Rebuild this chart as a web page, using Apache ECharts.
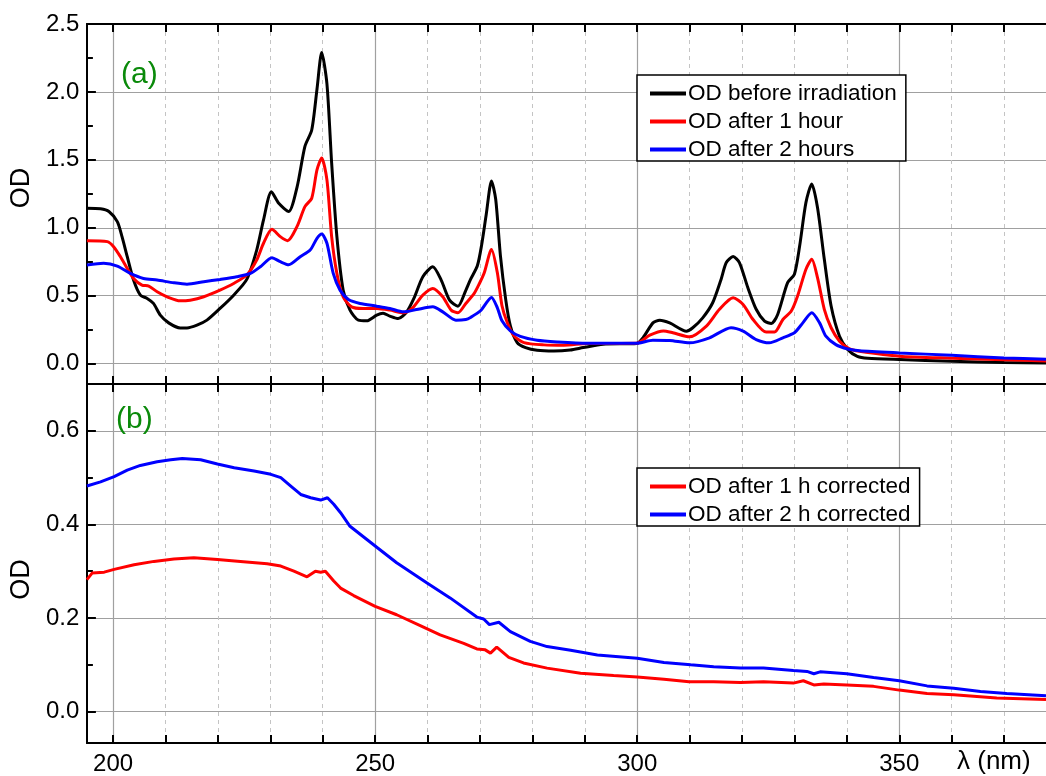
<!DOCTYPE html>
<html>
<head>
<meta charset="utf-8">
<script src="https://cdn.jsdelivr.net/npm/echarts@6/dist/echarts.min.js"></script>
<style>
  html, body { margin: 0; padding: 0; background: #fff; }
  #chart { width: 1046px; height: 776px; }
</style>
</head>
<body>
<div id="chart"></div>
<script>
// Absorption spectra, panel (a): [wavelength nm, OD]
const odBefore = [
  [195,1.144],[197.6,1.14],[199.2,1.12],[200.8,1.045],[201.7,0.935],[202.7,0.787],[203.9,0.615],
  [205.2,0.504],[206.5,0.48],[207.7,0.443],[209,0.357],[210.6,0.30],[212.8,0.263],[214.1,0.263],
  [216,0.283],[217.9,0.32],[220.4,0.406],[223,0.504],[225.5,0.62],[227.4,0.836],[228.7,1.058],
  [230.2,1.265],[231.6,1.18],[233.5,1.12],[235.1,1.30],[236.6,1.60],[237.9,1.72],[238.9,2.02],
  [239.8,2.29],[240.8,2.06],[241.7,1.476],[242.7,0.935],[243.9,0.54],[245.2,0.394],[246.8,0.32],
  [248.4,0.315],[250.3,0.357],[251.5,0.37],[252.8,0.35],[254.4,0.332],[256,0.38],[257.5,0.49],
  [259.1,0.64],[261,0.713],[262.6,0.615],[264.2,0.467],[265.8,0.423],[267.3,0.54],[268.2,0.62],
  [269.5,0.72],[270.3,0.87],[271.2,1.1],[272.2,1.345],[273,1.21],[273.9,0.795],[274.9,0.475],
  [275.8,0.278],[277.1,0.155],[278.7,0.118],[280.9,0.098],[284.1,0.093],[287.2,0.10],[289.7,0.118],
  [293.5,0.143],[299.9,0.148],[301.1,0.19],[303,0.30],[304.3,0.32],[306.2,0.30],[309.4,0.239],
  [310.6,0.264],[312.5,0.337],[314.4,0.448],[316,0.62],[317,0.744],[318.3,0.788],[319.5,0.744],
  [321.1,0.56],[322.7,0.40],[324.3,0.313],[325.6,0.296],[326.8,0.362],[328.7,0.596],[330,0.658],
  [331,0.867],[332.2,1.187],[333.3,1.323],[334.4,1.15],[335.7,0.768],[337,0.424],[338.6,0.202],
  [340.2,0.103],[342,0.054],[344,0.04],[350,0.03],[360,0.017],[370,0.008],[378,0.005]
];
const od1h = [
  [195,0.905],[198.9,0.898],[200.1,0.861],[201.4,0.787],[202.7,0.70],[203.9,0.627],[205.5,0.578],
  [206.8,0.571],[208.4,0.529],[210.3,0.492],[212.8,0.462],[214.7,0.467],[217.3,0.492],[220.4,0.541],
  [223,0.59],[225.5,0.652],[227.4,0.763],[228.7,0.886],[230.3,0.989],[231.9,0.935],[233.3,0.905],
  [235.1,1.01],[236.6,1.156],[237.9,1.218],[238.9,1.427],[239.8,1.513],[240.8,1.353],[241.7,0.935],
  [242.7,0.664],[243.9,0.492],[245.5,0.418],[247.7,0.406],[250.3,0.406],[252.8,0.394],[255.4,0.374],
  [257.2,0.413],[259.1,0.504],[261,0.553],[262.9,0.492],[264.5,0.394],[265.8,0.374],[267.3,0.443],
  [268.9,0.517],[269.9,0.59],[270.8,0.667],[272.2,0.84],[273.3,0.672],[274.2,0.426],[275.2,0.303],
  [276.5,0.204],[278.4,0.155],[282.2,0.138],[286,0.135],[290.4,0.148],[299.9,0.15],[302.4,0.209],
  [305,0.241],[306.8,0.227],[310,0.197],[313.2,0.276],[315.7,0.40],[318.3,0.485],[320.2,0.436],
  [322.1,0.325],[324.6,0.232],[326.2,0.232],[327.8,0.325],[329.4,0.387],[330.6,0.498],[332.2,0.695],
  [333.3,0.768],[334.4,0.633],[335.7,0.40],[337,0.264],[338.6,0.165],[340.5,0.108],[342.4,0.091],
  [350,0.055],[360,0.04],[370,0.028],[378,0.02]
];
const od2h = [
  [195,0.726],[198.2,0.738],[200.8,0.718],[203.3,0.664],[205.8,0.627],[208.4,0.615],[211.6,0.595],
  [214.1,0.585],[217.3,0.603],[220.4,0.62],[223.6,0.64],[226.2,0.664],[228.1,0.713],[230.3,0.78],
  [231.9,0.75],[233.5,0.728],[235.7,0.787],[237.6,0.836],[238.9,0.922],[239.8,0.954],[240.8,0.886],
  [242,0.664],[243.3,0.541],[244.9,0.472],[247.1,0.443],[250.3,0.423],[252.8,0.406],[255.4,0.381],
  [257.9,0.398],[261,0.418],[262.9,0.381],[265.4,0.32],[267.3,0.325],[268.2,0.34],[270.1,0.389],
  [272.2,0.487],[273.3,0.413],[274.2,0.315],[275.8,0.241],[277.7,0.20],[280.9,0.172],[284.7,0.16],
  [290.4,0.15],[299.9,0.15],[303,0.172],[306.2,0.17],[310,0.153],[313.8,0.19],[317.9,0.264],
  [320.2,0.239],[322.7,0.177],[325.2,0.153],[327.8,0.19],[330,0.227],[331.6,0.30],[333.3,0.374],
  [334.8,0.30],[336,0.202],[337.9,0.14],[340.2,0.108],[342.4,0.095],[350,0.079],[360,0.061],
  [370,0.042],[378,0.032]
];

// Panel (b): corrected spectra
const od1hCorr = [
  [195,0.282],[196,0.296],[198.3,0.298],[200.2,0.304],[204,0.314],[207.8,0.321],[211.6,0.326],
  [215.4,0.329],[219.9,0.325],[224.3,0.321],[229.4,0.316],[232,0.311],[234.5,0.30],[237,0.288],
  [238.6,0.30],[239.6,0.298],[240.5,0.30],[242.1,0.279],[243.4,0.264],[245.9,0.248],[250,0.225],
  [254.1,0.207],[258.6,0.184],[262.4,0.164],[266.9,0.146],[269.4,0.134],[271,0.132],[272,0.125],
  [273.2,0.138],[275.5,0.116],[278.3,0.104],[282.8,0.093],[289.2,0.082],[295.5,0.077],[300,0.074],
  [305.1,0.069],[309.9,0.064],[314.6,0.064],[319.7,0.062],[324.1,0.064],[329.8,0.061],[331.7,0.066],
  [333.7,0.057],[335.6,0.059],[340,0.057],[345.1,0.054],[350,0.046],[355.3,0.039],[360.4,0.036],
  [368.6,0.029],[378,0.026]
];
const od2hCorr = [
  [195,0.482],[197.6,0.491],[200.2,0.502],[202.7,0.516],[205.2,0.526],[208.4,0.534],[211,0.538],
  [213.2,0.541],[216.7,0.538],[219.9,0.529],[223.1,0.521],[226.9,0.514],[230.1,0.507],[232,0.50],
  [233.9,0.482],[235.8,0.464],[237.7,0.457],[239.6,0.452],[240.9,0.457],[242.1,0.443],[243.4,0.425],
  [245.2,0.396],[250,0.354],[254.1,0.318],[259.9,0.275],[264.3,0.243],[269.4,0.202],[270.7,0.198],
  [271.8,0.186],[273.6,0.191],[275.8,0.171],[279.6,0.15],[282.8,0.139],[287.3,0.131],[292.4,0.121],
  [300,0.114],[305.1,0.105],[310.2,0.10],[314.6,0.096],[319.7,0.093],[324.1,0.093],[329.8,0.088],
  [332.4,0.086],[333.7,0.081],[334.9,0.085],[340,0.081],[345.1,0.073],[350,0.066],[355.3,0.055],
  [360.4,0.05],[365.5,0.043],[370.5,0.039],[378,0.034]
];

// Axis ticks and labels
const xMajor = [200, 250, 300, 350];
const xTicks = [200,210,220,230,240,250,260,270,280,290,300,310,320,330,340,350,360,370];
const xMinorGrid = [210,220,230,240,260,270,280,290,310,320,330,340,360,370];
const yTopMajor = [0, 0.5, 1.0, 1.5, 2.0, 2.5];
const yTopMinor = [0.25, 0.75, 1.25, 1.75, 2.25];
const yBotMajor = [0, 0.2, 0.4, 0.6];
const yBotMinor = [0.1, 0.3, 0.5];

const FONT = 'Liberation Sans, Arial, sans-serif';
const X_MIN = 195, X_MAX = 378;

function frameX(grid, position, labels) {
  return {
    type: 'value', gridIndex: grid, position: position, min: X_MIN, max: X_MAX,
    axisLine: { show: true, onZero: false, lineStyle: { color: '#000', width: 2 } },
    axisTick: { show: true, inside: true, length: 8, customValues: xTicks,
                lineStyle: { color: '#000', width: 2 } },
    axisLabel: labels ? { show: true, customValues: xMajor, color: '#000', fontFamily: FONT,
                          fontSize: 24, margin: 9 } : { show: false },
    splitLine: { show: false }
  };
}
function gridX(grid, values, style) {
  return {
    type: 'value', gridIndex: grid, position: 'bottom', min: X_MIN, max: X_MAX,
    axisLine: { show: false, onZero: false },
    axisTick: { show: false, customValues: values },
    axisLabel: { show: false },
    splitLine: { show: true, lineStyle: style }
  };
}
function mainY(grid, min, max, major, namePad) {
  return {
    type: 'value', gridIndex: grid, position: 'left', min: min, max: max,
    name: 'OD', nameLocation: 'middle', nameGap: 50,
    nameTextStyle: { color: '#000', fontFamily: FONT, fontSize: 27, padding: namePad },
    axisLine: { show: true, onZero: false, lineStyle: { color: '#000', width: 2 } },
    axisTick: { show: true, inside: true, length: 9, customValues: major,
                lineStyle: { color: '#000', width: 2 } },
    axisLabel: { show: true, customValues: major, color: '#000', fontFamily: FONT, fontSize: 24,
                 align: 'left', margin: 41, formatter: v => v.toFixed(1) },
    splitLine: { show: true, lineStyle: { color: '#a0a0a0', width: 1.2 } }
  };
}
function minorY(grid, min, max, minor) {
  return {
    type: 'value', gridIndex: grid, position: 'left', min: min, max: max,
    axisLine: { show: false, onZero: false },
    axisTick: { show: true, inside: true, length: 6, customValues: minor,
                lineStyle: { color: '#000', width: 2 } },
    axisLabel: { show: false },
    splitLine: { show: false }
  };
}

const dashStyle = { color: '#c4c4c4', width: 1, type: [4, 4] };
const solidStyle = { color: '#a0a0a0', width: 1.2 };

function line(name, data, color, xi, yi, smooth) {
  return {
    name: name, type: 'line', data: data, xAxisIndex: xi, yAxisIndex: yi,
    symbol: 'none', smooth: smooth, z: 5,
    lineStyle: { color: color, width: 3 }, itemStyle: { color: color }
  };
}

const legendBase = {
  orient: 'vertical', selectedMode: false, backgroundColor: '#fff',
  borderColor: '#000', borderWidth: 1.5, borderRadius: 0,
  icon: 'rect', itemWidth: 36, itemHeight: 4, itemGap: 5,
  textStyle: { color: '#000', fontFamily: FONT, fontSize: 22.5, padding: [0, 0, 0, -3] }
};

const chart = echarts.init(document.getElementById('chart'), null, { renderer: 'canvas' });
chart.setOption({
  animation: false,
  backgroundColor: '#fff',
  grid: [
    { left: 86, top: 24, width: 960, height: 360, containLabel: false },
    { left: 86, top: 384, width: 960, height: 359, containLabel: false }
  ],
  xAxis: [
    frameX(0, 'bottom', false),
    frameX(0, 'top', false),
    gridX(0, xMinorGrid, dashStyle),
    gridX(0, xMajor, solidStyle),
    frameX(1, 'bottom', true),
    frameX(1, 'top', false),
    gridX(1, xMinorGrid, dashStyle),
    gridX(1, xMajor, solidStyle)
  ],
  yAxis: [
    mainY(0, -0.15, 2.5, yTopMajor, [0, 0, 0, 32]),
    minorY(0, -0.15, 2.5, yTopMinor),
    mainY(1, -0.067, 0.7, yBotMajor, [0, 32, 0, 0]),
    minorY(1, -0.067, 0.7, yBotMinor)
  ],
  legend: [
    Object.assign({}, legendBase, {
      left: 637, top: 75, padding: [7, 9, 0, 13],
      data: ['OD before irradiation', 'OD after 1 hour', 'OD after 2 hours']
    }),
    Object.assign({}, legendBase, {
      left: 637, top: 468, padding: [7, 9, 0, 13],
      data: ['OD after 1 h corrected', 'OD after 2 h corrected']
    })
  ],
  graphic: [
    { type: 'text', left: 121, top: 60, z: 10,
      style: { text: '(a)', fill: '#0a8a0a', font: '30px ' + FONT } },
    { type: 'text', left: 116, top: 405, z: 10,
      style: { text: '(b)', fill: '#0a8a0a', font: '30px ' + FONT } },
    { type: 'text', left: 957, top: 749, z: 10,
      style: { text: 'λ (nm)', fill: '#000', font: '26px ' + FONT } }
  ],
  series: [
    line('OD before irradiation', odBefore, '#000000', 0, 0, 0.25),
    line('OD after 1 hour', od1h, '#ff0000', 0, 0, 0.25),
    line('OD after 2 hours', od2h, '#0000ff', 0, 0, 0.25),
    line('OD after 1 h corrected', od1hCorr, '#ff0000', 4, 2, false),
    line('OD after 2 h corrected', od2hCorr, '#0000ff', 4, 2, false)
  ]
});
</script>
</body>
</html>
